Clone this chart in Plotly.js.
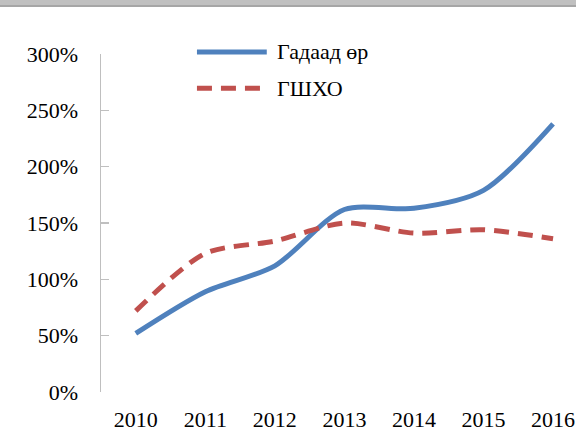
<!DOCTYPE html>
<html>
<head>
<meta charset="utf-8">
<script src="https://cdn.plot.ly/plotly-3.0.1.min.js"></script>
<style>
html,body{margin:0;padding:0;background:#fff;}
#wrap{position:relative;width:576px;height:432px;}
#chart{width:576px;height:432px;}
#band{position:absolute;left:0;top:0;width:576px;height:5px;background:#c0c0c0;border-bottom:2px solid #a6a6a6;z-index:5;}
</style>
</head>
<body>
<div id="wrap"><div id="chart"></div><div id="band"></div></div>
<script>
const years = ['2010', '2011', '2012', '2013', '2014', '2015', '2016'];
const externalDebt = [0.52, 0.89, 1.12, 1.62, 1.63, 1.79, 2.38];
const gdpRatio = [0.72, 1.23, 1.34, 1.50, 1.41, 1.44, 1.36];
const seriesNames = ['Гадаад өр', 'ГШХО'];
const yTicks = [0, 0.5, 1, 1.5, 2, 2.5, 3];

const blue = '#4F81BD';
const red = '#C0504D';
const font = {family: '"Liberation Serif", "Times New Roman", serif', size: 22, color: '#000'};

const traces = [
  {x: years, y: externalDebt, name: seriesNames[0], type: 'scatter', mode: 'lines',
   line: {color: blue, width: 5, shape: 'spline', smoothing: 0.8}},
  {x: years, y: gdpRatio, name: seriesNames[1], type: 'scatter', mode: 'lines',
   line: {color: red, width: 5, shape: 'spline', smoothing: 0.8, dash: '15px,9px'}}
];

const legendY = [1.006, 0.899];
const shapes = [
  {type: 'line', xref: 'paper', yref: 'paper', x0: 0.202, x1: 0.349, y0: legendY[0], y1: legendY[0],
   line: {color: blue, width: 5}},
  {type: 'line', xref: 'paper', yref: 'paper', x0: 0.202, x1: 0.349, y0: legendY[1], y1: legendY[1],
   line: {color: red, width: 5, dash: '15px,9px'}}
];
const annotations = seriesNames.map((n, i) => ({
  text: n, xref: 'paper', yref: 'paper', x: 0.366, y: legendY[i],
  xanchor: 'left', yanchor: 'middle', showarrow: false, font: font
}));

const layout = {
  width: 576, height: 432,
  margin: {l: 101, r: 0, t: 54, b: 40, pad: 0},
  paper_bgcolor: '#fff', plot_bgcolor: '#fff',
  showlegend: false,
  font: font,
  xaxis: {type: 'category', range: [-0.5, 6.33], showgrid: false, zeroline: false,
          showline: false, ticks: '', tickfont: font, ticklabelstandoff: 12, fixedrange: true},
  yaxis: {range: [0, 3], tickvals: yTicks, tickformat: '.0%', showgrid: false, zeroline: false,
          showline: true, linecolor: '#bfbfbf', linewidth: 1.5, ticks: 'inside', ticklen: 8,
          tickcolor: '#bfbfbf', tickwidth: 1.5, tickfont: font, ticklabelstandoff: 17, fixedrange: true},
  shapes: shapes,
  annotations: annotations
};

Plotly.newPlot('chart', traces, layout, {displayModeBar: false, staticPlot: true});
</script>
</body>
</html>
